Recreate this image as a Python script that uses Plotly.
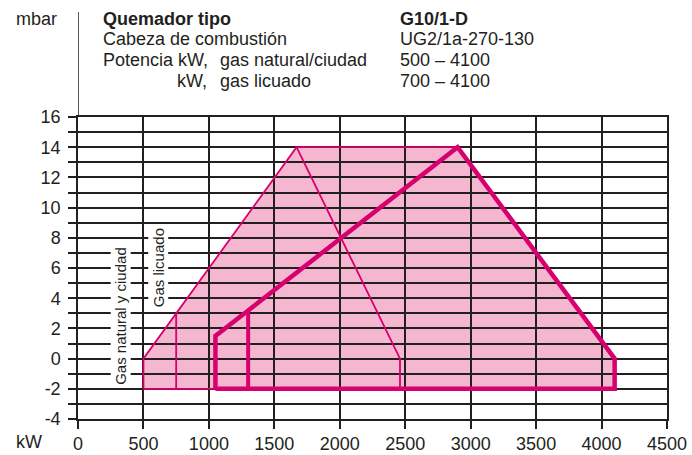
import plotly.graph_objects as go

# ---- data ----
x_ticks = [0, 500, 1000, 1500, 2000, 2500, 3000, 3500, 4000, 4500]
y_ticks = [-4, -2, 0, 2, 4, 6, 8, 10, 12, 14, 16]

# filled working field (union)
field_x = [500, 500, 1670, 2900, 4100, 4100, 500]
field_y = [-2, 0, 14, 14, 0, -2, -2]

# thin outline: natural / town gas
nat_x = [500, 500, 1670, 2900]
nat_y = [-2, 0, 14, 14]
nat_bottom_x = [500, 1050]
nat_bottom_y = [-2, -2]
nat_right_x = [1670, 2460, 2460]
nat_right_y = [14, 0, -2]
nat_mid_x = [750, 750]
nat_mid_y = [-2, 2.97]

# thick outline: liquefied gas
lpg_x = [1050, 1050, 1300, 2900, 4100, 4100, 1050]
lpg_y = [-2, 1.5, 3.19, 14, 0, -2, -2]
lpg_mid_x = [1300, 1300]
lpg_mid_y = [-2, 3.19]

header_left = [
    ("<b>Quemador tipo</b>", 101, 1),
    ("Cabeza de combustión", 101, 2),
    ("Potencia kW,", 101, 3),
    ("gas natural/ciudad", 218, 3),
    ("kW,", 175, 4),
    ("gas licuado", 218, 4),
]
header_right = ["<b>G10/1-D</b>", "UG2/1a-270-130", "500 – 4100", "700 – 4100"]

# ---- style ----
W, H = 692, 455
L, R, T, B = 78, 25, 117, 36
PW, PH = W - L - R, H - T - B
INK = "#231f20"
MAG = "#d6006e"
FILL = "#f5b7d0"
FONT = "Liberation Sans, Arial, sans-serif"

def px_x(px):
    return (px - L) / PW

def px_y(py):
    return (H - B - py) / PH

line_mid = {1: 19, 2: 39.5, 3: 60, 4: 81}

fig = go.Figure()

path = "M " + " L ".join(f"{x},{y}" for x, y in zip(field_x, field_y)) + " Z"
fig.add_shape(type="path", path=path, xref="x", yref="y", layer="below",
              fillcolor=FILL, line=dict(width=0))

def add_line(xs, ys, w):
    fig.add_trace(go.Scatter(x=xs, y=ys, mode="lines", hoverinfo="skip",
                             line=dict(color=MAG, width=w), showlegend=False))

add_line(nat_x, nat_y, 1.8)
add_line(nat_bottom_x, nat_bottom_y, 1.8)
add_line(nat_right_x, nat_right_y, 1.8)
add_line(nat_mid_x, nat_mid_y, 1.8)
add_line(lpg_mid_x, lpg_mid_y, 4)
fig.add_trace(go.Scatter(x=lpg_x, y=lpg_y, mode="lines", hoverinfo="skip",
                         line=dict(color=MAG, width=4.5, shape="linear"),
                         showlegend=False))

# vertical axis line extending up into the header
fig.add_shape(type="line", xref="x", yref="paper", x0=0, x1=0,
              y0=1, y1=px_y(12), line=dict(color=INK, width=1.5), layer="above")

# header annotations
for txt, x, ln in header_left:
    fig.add_annotation(text=txt, xref="paper", yref="paper", x=px_x(x), y=px_y(line_mid[ln]),
                       xanchor="left", yanchor="middle", showarrow=False,
                       font=dict(size=18, color=INK, family=FONT))
for i, txt in enumerate(header_right):
    fig.add_annotation(text=txt, xref="paper", yref="paper", x=px_x(398), y=px_y(line_mid[i + 1]),
                       xanchor="left", yanchor="middle", showarrow=False,
                       font=dict(size=18, color=INK, family=FONT))
fig.add_annotation(text="mbar", xref="paper", yref="paper", x=px_x(14), y=px_y(line_mid[1]),
                   xanchor="left", yanchor="middle", showarrow=False,
                   font=dict(size=18, color=INK, family=FONT))
fig.add_annotation(text="kW", xref="paper", yref="paper", x=px_x(14), y=px_y(442),
                   xanchor="left", yanchor="middle", showarrow=False,
                   font=dict(size=18, color=INK, family=FONT))

# rotated gas labels
fig.add_annotation(text="Gas natural y ciudad", x=325, y=2.8, xref="x", yref="y",
                   textangle=-90, showarrow=False, bgcolor="white", borderpad=1,
                   font=dict(size=15, color=INK, family=FONT))
fig.add_annotation(text="Gas licuado", x=611, y=6.05, xref="x", yref="y",
                   textangle=-90, showarrow=False, bgcolor="white", borderpad=1,
                   font=dict(size=15, color=INK, family=FONT))

fig.update_layout(
    width=W, height=H,
    margin=dict(l=L, r=R, t=T, b=B, pad=0, autoexpand=False),
    paper_bgcolor="white", plot_bgcolor="white",
    font=dict(family=FONT, size=18, color=INK),
    showlegend=False,
    xaxis=dict(range=[0, 4500], tickvals=x_ticks, ticktext=[str(v) for v in x_ticks],
               ticks="outside", ticklen=8, tickwidth=1.5, tickcolor=INK,
               showgrid=True, gridcolor=INK, gridwidth=1.5, zeroline=False,
               showline=True, linecolor=INK, linewidth=1.5, mirror=True,
               automargin=False,
               tickfont=dict(size=18, color=INK, family=FONT)),
    yaxis=dict(range=[-4, 16], tickvals=y_ticks, ticktext=[str(v) for v in y_ticks],
               ticks="outside", ticklen=8, tickwidth=1.5, tickcolor=INK,
               showgrid=True, gridcolor=INK, gridwidth=1.5, zeroline=False,
               showline=True, linecolor=INK, linewidth=1.5, mirror=True,
               ticklabelstandoff=4, automargin=False,
               minor=dict(dtick=1, tick0=0, ticks="outside", ticklen=8, tickwidth=1.5,
                          tickcolor=INK, showgrid=True, gridcolor=INK, gridwidth=1.5),
               tickfont=dict(size=18, color=INK, family=FONT)),
)

fig.write_html("out.html", config={"displayModeBar": False},
               post_script="document.body.style.margin='0';document.body.style.overflow='hidden';")
